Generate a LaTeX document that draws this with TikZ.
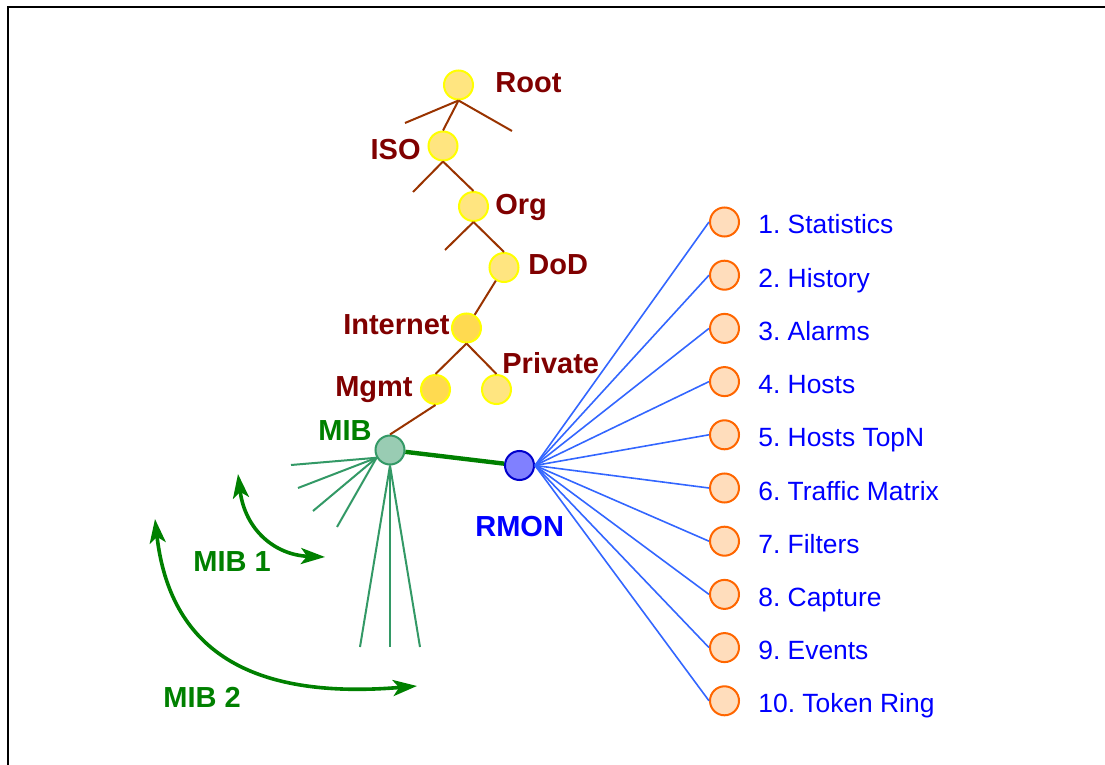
\documentclass[tikz,border=0pt]{standalone}
\usepackage{fontspec}
\setmainfont{Liberation Sans}
\usetikzlibrary{arrows.meta}
\frenchspacing
\definecolor{treebrown}{RGB}{153,51,0}
\definecolor{treered}{RGB}{128,0,0}
\definecolor{oidfill}{RGB}{255,229,128}
\definecolor{oiddark}{RGB}{255,218,80}
\definecolor{oidborder}{RGB}{255,255,0}
\definecolor{mibfill}{RGB}{153,204,179}
\definecolor{mibline}{RGB}{51,153,102}
\definecolor{mibgreen}{RGB}{0,128,0}
\definecolor{rmonfill}{RGB}{128,128,255}
\definecolor{rmonborder}{RGB}{0,0,204}
\definecolor{rmonline}{RGB}{51,102,255}
\definecolor{groupfill}{RGB}{255,221,188}
\definecolor{groupborder}{RGB}{255,102,0}
\definecolor{groupblue}{RGB}{0,0,255}

\begin{document}
\begin{tikzpicture}[x=0.5pt,y=-0.5pt]
	\tikzstyle{oid}=[circle, draw=oidborder, fill=oidfill, line width=1pt, minimum size=14.5pt, inner sep=0pt]
	\tikzstyle{oidd}=[oid, fill=oiddark]
	\tikzstyle{tree}=[draw=treebrown, line width=1pt]
	\tikzstyle{treename}=[text=treered, inner sep=0pt, font=\fontsize{14.5}{17}\selectfont\bfseries]
	\tikzstyle{greenname}=[treename, text=mibgreen]
	\tikzstyle{group}=[circle, draw=groupborder, fill=groupfill, line width=1pt, minimum size=14.5pt, inner sep=0pt]
	\tikzstyle{groupname}=[text=groupblue, inner sep=0pt, anchor=base west, font=\fontsize{13.2}{16}\selectfont]
	\tikzstyle{spoke}=[draw=mibline, line width=1pt]
	\tikzstyle{ray}=[draw=rmonline, line width=0.8pt]
	\tikzstyle{mibarrow}=[draw=mibgreen, line width=1.8pt, {Stealth[length=12pt,width=8pt,inset=3pt]}-{Stealth[length=12pt,width=8pt,inset=3pt]}]

	\useasboundingbox (0,0) rectangle (1105,765);
	\draw [line width=1pt] (8,765) -- (8,7.5) -- (1105,7.5);

	% OID tree
	\draw node at (458.5, 85) [oid] (root) {};
	\node [treename, anchor=base west] at (495, 93) (rootname) {Root};
	\draw node at (443, 146) [oid] (iso) {};
	\node [treename, anchor=base east] at (421, 160) (isoname) {ISO};
	\draw node at (473.5, 206.5) [oid] (org) {};
	\node [treename, anchor=base west] at (495, 215) (orgname) {Org};
	\draw node at (504, 267.5) [oid] (dod) {};
	\node [treename, anchor=base west] at (528, 275) (dodname) {DoD};
	\draw node at (466.5, 328) [oidd] (internet) {};
	\node [treename, anchor=base east] at (450, 335) (internetname) {Internet};
	\draw node at (435.5, 389.5) [oidd] (mgmt) {};
	\node [treename, anchor=base east] at (413, 396) (mgmtname) {Mgmt};
	\draw node at (496.5, 389.5) [oid] (private) {};
	\node [treename, anchor=base west] at (502, 373) (privatename) {Private};

	\coordinate (rootl) at (405, 123);
	\coordinate (rootr) at (512, 131);
	\coordinate (isol) at (413, 192);
	\coordinate (orgl) at (445, 250);

	\draw [tree] (root.south) -- (rootl);
	\draw [tree] (root.south) -- (iso.north);
	\draw [tree] (root.south) -- (rootr);
	\draw [tree] (iso.south) -- (isol);
	\draw [tree] (iso.south) -- (org.north);
	\draw [tree] (org.south) -- (orgl);
	\draw [tree] (org.south) -- (dod.north);
	\draw [tree] (dod) -- (internet);
	\draw [tree] (internet.south) -- (mgmt.north);
	\draw [tree] (internet.south) -- (private.north);

	% MIB and RMON
	\draw node at (390, 450) [circle, draw=mibline, fill=mibfill, line width=1pt, minimum size=14.5pt, inner sep=0pt] (mib) {};
	\node [greenname, anchor=base west] at (318, 440) (mibname) {MIB};
	\draw node at (519.5, 465.5) [circle, draw=rmonborder, fill=rmonfill, line width=1pt, minimum size=14.5pt, inner sep=0pt] (rmon) {};
	\node [greenname, text=groupblue, anchor=base west] at (475, 536) (rmonname) {RMON};

	\draw [tree] (mgmt.south) -- (mib.north);
	\draw [draw=mibgreen, line width=2.2pt] (mib) -- (rmon);

	\coordinate (s1) at (291, 465);
	\coordinate (s2) at (298, 488);
	\coordinate (s3) at (313, 511);
	\coordinate (s4) at (337, 527);
	\coordinate (d1) at (360, 647);
	\coordinate (d2) at (390, 647);
	\coordinate (d3) at (420, 647);
	\draw [spoke] (mib.210) -- (s1);
	\draw [spoke] (mib.210) -- (s2);
	\draw [spoke] (mib.210) -- (s3);
	\draw [spoke] (mib.210) -- (s4);
	\draw [spoke] (mib.south) -- (d1);
	\draw [spoke] (mib.south) -- (d2);
	\draw [spoke] (mib.south) -- (d3);

	\coordinate (m1a) at (238, 474);
	\coordinate (m1b) at (325, 557);
	\coordinate (m2a) at (155, 519);
	\coordinate (m2b) at (417, 686);
	\draw [mibarrow] (m1a) .. controls (245, 530) and (275, 555) .. (m1b);
	\draw [mibarrow] (m2a) .. controls (170, 650) and (250, 700) .. (m2b);
	\node [greenname, anchor=base west] at (193, 571) (mib1name) {MIB 1};
	\node [greenname, anchor=base west] at (163, 707) (mib2name) {MIB 2};

	% RMON groups
	\draw node at (724.5, 222) [group] (g1) {};
	\node [groupname] at (758, 234) (g1name) {1. Statistics};
	\draw [ray] (rmon.east) -- (g1.west);
	\draw node at (724.5, 275.2) [group] (g2) {};
	\node [groupname] at (758, 287.2) (g2name) {2. History};
	\draw [ray] (rmon.east) -- (g2.west);
	\draw node at (724.5, 328.4) [group] (g3) {};
	\node [groupname] at (758, 340.4) (g3name) {3. Alarms};
	\draw [ray] (rmon.east) -- (g3.west);
	\draw node at (724.5, 381.6) [group] (g4) {};
	\node [groupname] at (758, 393.6) (g4name) {4. Hosts};
	\draw [ray] (rmon.east) -- (g4.west);
	\draw node at (724.5, 434.8) [group] (g5) {};
	\node [groupname] at (758, 446.8) (g5name) {5. Hosts TopN};
	\draw [ray] (rmon.east) -- (g5.west);
	\draw node at (724.5, 488) [group] (g6) {};
	\node [groupname] at (758, 500) (g6name) {6. Traffic Matrix};
	\draw [ray] (rmon.east) -- (g6.west);
	\draw node at (724.5, 541.2) [group] (g7) {};
	\node [groupname] at (758, 553.2) (g7name) {7. Filters};
	\draw [ray] (rmon.east) -- (g7.west);
	\draw node at (724.5, 594.4) [group] (g8) {};
	\node [groupname] at (758, 606.4) (g8name) {8. Capture};
	\draw [ray] (rmon.east) -- (g8.west);
	\draw node at (724.5, 647.6) [group] (g9) {};
	\node [groupname] at (758, 659.6) (g9name) {9. Events};
	\draw [ray] (rmon.east) -- (g9.west);
	\draw node at (724.5, 700.8) [group] (g10) {};
	\node [groupname] at (758, 712.8) (g10name) {10. Token Ring};
	\draw [ray] (rmon.east) -- (g10.west);
\end{tikzpicture}
\end{document}
